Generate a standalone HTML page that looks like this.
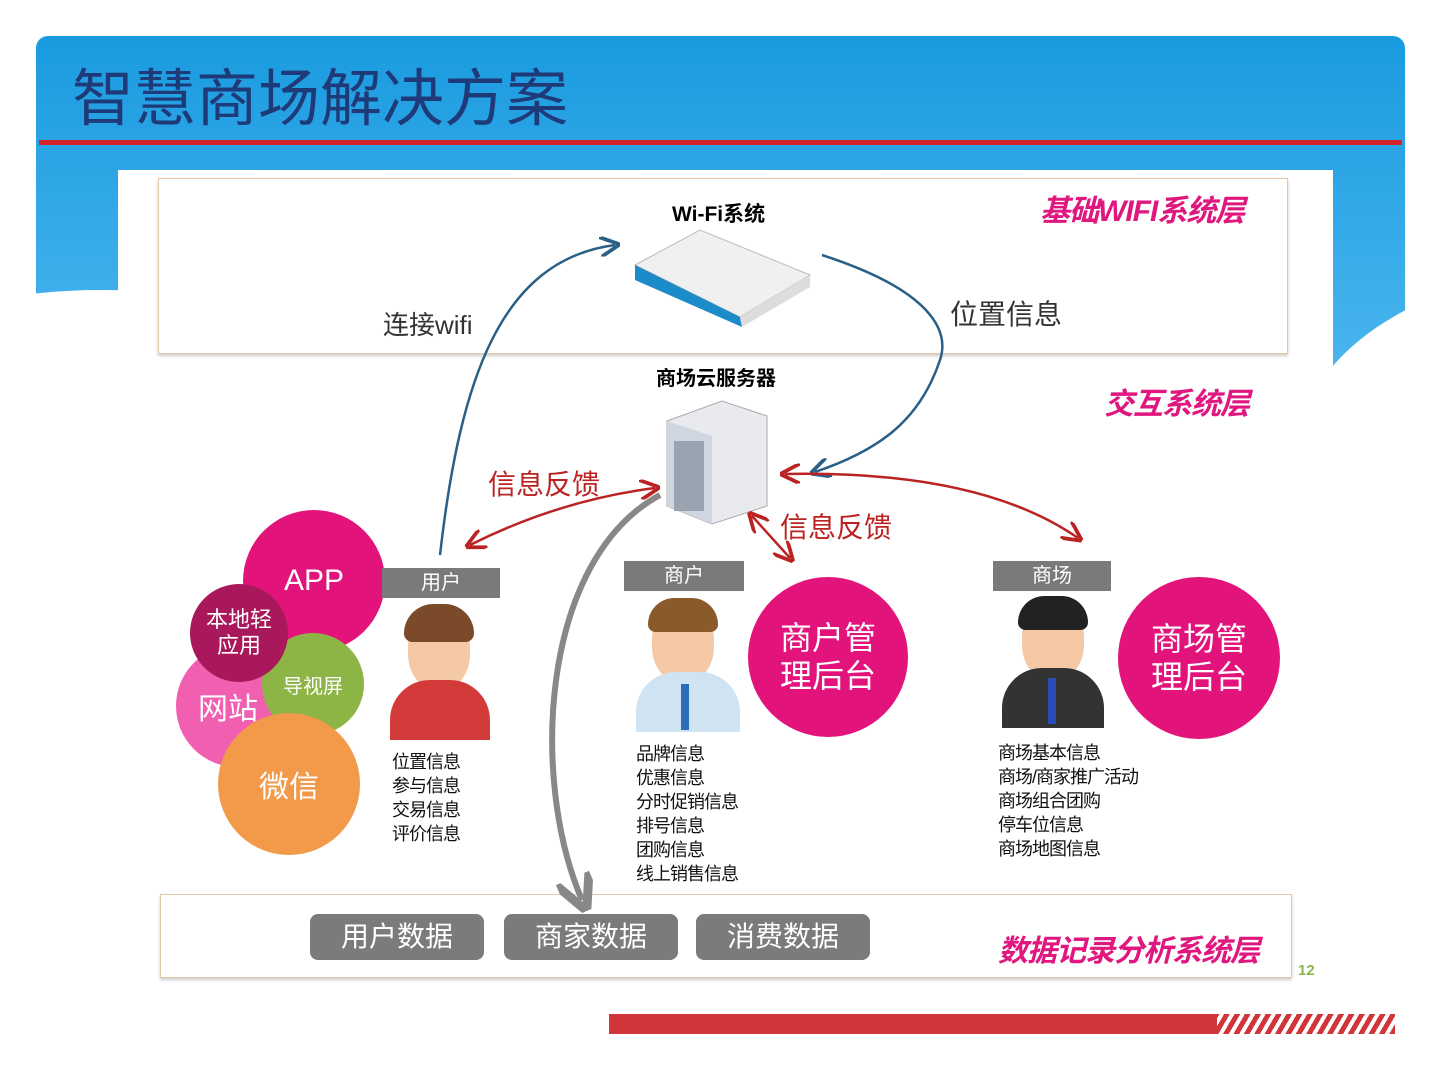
<!DOCTYPE html>
<html><head><meta charset="utf-8"><style>
body{margin:0;width:1440px;height:1080px;position:relative;overflow:hidden;background:#fff;font-family:"Liberation Sans","Noto Sans CJK SC",sans-serif}
.a{position:absolute}
.t{position:absolute;white-space:nowrap}
.circ{position:absolute;border-radius:50%;color:#fff;display:flex;align-items:center;justify-content:center;text-align:center}
.lab{position:absolute;background:#7a7a7a;color:#fff;font-size:20px;text-align:center;height:30px;line-height:30px}
.pill{position:absolute;background:#7b7b7b;color:#fff;font-size:28px;border-radius:8px;text-align:center;height:46px;line-height:46px;top:914px;width:174px}
.layer{position:absolute;color:#e0177e;font-weight:bold;font-style:italic;font-size:30px;letter-spacing:-1px}
.info{position:absolute;font-size:18px;line-height:24px;color:#111;letter-spacing:-1px}
</style></head><body>
<div class="a" style="left:36px;top:36px;width:1369px;height:350px;border-radius:12px;background:linear-gradient(#1a9be0,#4bb6ee)"></div>
<div class="a" style="left:-200px;top:290px;width:600px;height:300px;border-radius:50%;background:#fff"></div>
<div class="a" style="left:1300px;top:270px;width:500px;height:300px;border-radius:50%;background:#fff;transform:rotate(-8deg)"></div>
<div class="a" style="left:1334px;top:380px;width:100px;height:300px;background:#fff"></div>
<div class="t" style="left:72px;top:48px;font-size:62px;color:#1f3a78">智慧商场解决方案</div>
<div class="a" style="left:39px;top:140px;width:1363px;height:5px;background:#d6232a"></div>
<div class="a" style="left:118px;top:170px;width:1215px;height:815px;background:#fff"></div>
<div class="a" style="left:158px;top:178px;width:1128px;height:174px;border:1.5px solid #e6c8a8;box-shadow:0 2px 3px #ccc"></div>
<div class="a" style="left:160px;top:894px;width:1130px;height:82px;border:1.5px solid #e6c8a8;box-shadow:0 2px 3px #ccc"></div>
<div class="t" style="left:672px;top:198px;font-weight:bold;font-size:21px">Wi-Fi系统</div>
<div class="layer" style="left:1040px;top:186px">基础WIFI系统层</div>
<div class="layer" style="left:1104px;top:379px">交互系统层</div>
<div class="layer" style="left:998px;top:926px">数据记录分析系统层</div>
<div class="t" style="left:1298px;top:962px;color:#8cb84a;font-size:15px;font-weight:bold">12</div>
<svg class="a" style="left:630px;top:225px" width="185" height="105">
<polygon points="5,40 70,5 180,50 110,92" fill="#f0f0f0" stroke="#bbb"/>
<polygon points="5,40 110,92 112,102 5,55" fill="#1b8cc9"/>
<polygon points="110,92 180,50 180,62 112,102" fill="#ddd"/>
</svg>
<svg class="a" style="left:662px;top:396px" width="110" height="130">
<polygon points="5,25 60,5 105,20 105,110 50,128 5,110" fill="#e8eaee" stroke="#aaa"/>
<polygon points="5,25 50,40 50,128 5,110" fill="#cfd6df"/>
<rect x="12" y="45" width="30" height="70" fill="#9aa4b0"/>
</svg>
<div class="t" style="left:656px;top:362px;font-weight:bold;font-size:20px">商场云服务器</div>
<div class="t" style="left:383px;top:305px;font-size:26px;color:#333">连接wifi</div>
<div class="t" style="left:950px;top:293px;font-size:28px;color:#333">位置信息</div>
<div class="t" style="left:488px;top:463px;font-size:28px;color:#b22">信息反馈</div>
<div class="t" style="left:780px;top:506px;font-size:28px;color:#b22">信息反馈</div>
<svg class="a" style="left:0;top:0" width="1440" height="1080">
<defs><marker id="b" markerWidth="8" markerHeight="8" refX="6" refY="4" orient="auto"><path d="M0,0 L8,4 L0,8" fill="none" stroke="#2a5f86" stroke-width="1.5"/></marker>
<marker id="r" markerWidth="8" markerHeight="8" refX="6" refY="4" orient="auto-start-reverse"><path d="M0,0 L8,4 L0,8" fill="none" stroke="#b22" stroke-width="1.5"/></marker>
<marker id="g" markerWidth="6" markerHeight="6" refX="4" refY="3" orient="auto"><path d="M0,0 L6,3 L0,6" fill="none" stroke="#888" stroke-width="1.5"/></marker></defs>
<path d="M440,555 C460,380 500,260 615,245" fill="none" stroke="#2a5f86" stroke-width="2.5" marker-end="url(#b)"/>
<path d="M822,255 C930,290 950,330 940,360 C920,420 880,450 815,472" fill="none" stroke="#2a5f86" stroke-width="2.5" marker-end="url(#b)"/>
<path d="M470,545 Q560,500 655,488" fill="none" stroke="#b22" stroke-width="2.5" marker-start="url(#r)" marker-end="url(#r)"/>
<path d="M752,516 L790,558" fill="none" stroke="#b22" stroke-width="2.5" marker-start="url(#r)" marker-end="url(#r)"/>
<path d="M785,474 Q980,470 1078,538" fill="none" stroke="#b22" stroke-width="2.5" marker-start="url(#r)" marker-end="url(#r)"/>
<path d="M660,495 C540,560 530,780 582,900" fill="none" stroke="#888" stroke-width="6" marker-end="url(#g)"/>
</svg>
<div class="circ" style="left:243px;top:510px;width:142px;height:142px;background:#e2147c;font-size:30px">APP</div>
<div class="circ" style="left:176px;top:645px;width:122px;height:122px;background:#f05fb0;font-size:30px;justify-content:flex-start;padding-left:22px;box-sizing:border-box">网站</div>
<div class="circ" style="left:262px;top:633px;width:102px;height:102px;background:#8db545;font-size:20px">导视屏</div>
<div class="circ" style="left:190px;top:584px;width:98px;height:98px;background:#a8185a;font-size:22px;line-height:26px">本地轻<br>应用</div>
<div class="circ" style="left:218px;top:713px;width:142px;height:142px;background:#f29a4a;font-size:30px">微信</div>
<div class="circ" style="left:748px;top:577px;width:160px;height:160px;background:#e2147c;font-size:32px;line-height:38px">商户管<br>理后台</div>
<div class="circ" style="left:1118px;top:577px;width:162px;height:162px;background:#e2147c;font-size:32px;line-height:38px">商场管<br>理后台</div>
<div class="lab" style="left:382px;top:568px;width:118px">用户</div>
<div class="lab" style="left:624px;top:561px;width:120px">商户</div>
<div class="lab" style="left:993px;top:561px;width:118px">商场</div>
<div class="a" style="left:408px;top:610px;width:62px;height:80px;border-radius:45%;background:#f5c9a6"></div>
<div class="a" style="left:404px;top:604px;width:70px;height:38px;border-radius:35px 35px 10px 10px;background:#7a4a2a"></div>
<div class="a" style="left:390px;top:680px;width:100px;height:60px;border-radius:40px 40px 0 0;background:#d33a3a"></div>
<div class="a" style="left:652px;top:604px;width:62px;height:78px;border-radius:45%;background:#f5c9a6"></div>
<div class="a" style="left:648px;top:598px;width:70px;height:34px;border-radius:35px 35px 10px 10px;background:#8a5a2a"></div>
<div class="a" style="left:636px;top:672px;width:104px;height:60px;border-radius:40px 40px 0 0;background:#cfe3f2"></div>
<div class="a" style="left:681px;top:684px;width:8px;height:46px;background:#2a6db8"></div>
<div class="a" style="left:1022px;top:602px;width:62px;height:78px;border-radius:45%;background:#f5c9a6"></div>
<div class="a" style="left:1018px;top:596px;width:70px;height:34px;border-radius:35px 35px 10px 10px;background:#222"></div>
<div class="a" style="left:1002px;top:668px;width:102px;height:60px;border-radius:40px 40px 0 0;background:#333"></div>
<div class="a" style="left:1048px;top:678px;width:8px;height:46px;background:#2a4db8"></div>
<div class="info" style="left:392px;top:750px">位置信息<br>参与信息<br>交易信息<br>评价信息</div>
<div class="info" style="left:636px;top:742px">品牌信息<br>优惠信息<br>分时促销信息<br>排号信息<br>团购信息<br>线上销售信息</div>
<div class="info" style="left:998px;top:741px">商场基本信息<br>商场/商家推广活动<br>商场组合团购<br>停车位信息<br>商场地图信息</div>
<div class="pill" style="left:310px">用户数据</div>
<div class="pill" style="left:504px">商家数据</div>
<div class="pill" style="left:696px">消费数据</div>
<div class="a" style="left:609px;top:1014px;width:608px;height:20px;background:#d0353a"></div>
<div class="a" style="left:1217px;top:1014px;width:178px;height:20px;background:repeating-linear-gradient(-60deg,#d0353a 0 5px,#fff 5px 9px)"></div>
</body></html>
